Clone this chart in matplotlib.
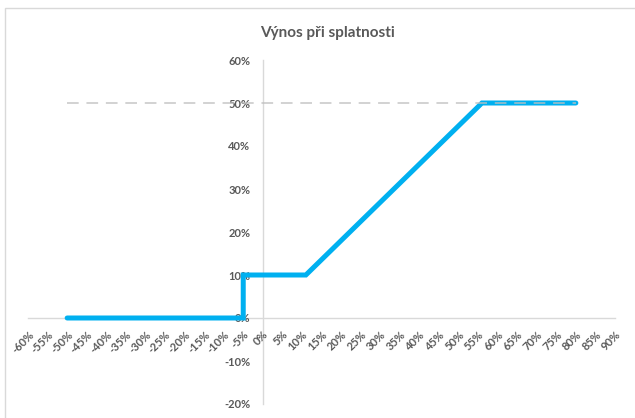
import matplotlib
matplotlib.use("Agg")
import matplotlib.pyplot as plt
from matplotlib.patches import Rectangle
import numpy as np

# payoff profile at maturity (x = underlying change, y = return)
x_pts = [-0.50, -0.05, -0.05, 0.11, 0.56, 0.80]
y_pts = [0.00, 0.00, 0.10, 0.10, 0.50, 0.50]
cap_x = [-0.50, 0.80]
cap_y = [0.50, 0.50]
x_ticks = np.arange(-60, 91, 5) / 100
y_ticks = np.arange(-20, 61, 10) / 100
title = "Výnos při splatnosti"

plt.rcParams["font.family"] = ["Lato", "DejaVu Sans"]
grey = "#595959"

fig = plt.figure(figsize=(6.35, 4.18), dpi=100)
fig.patches.append(Rectangle((5 / 635, -0.1), 1.2, 1 - 8 / 418 + 0.1,
                             transform=fig.transFigure, fill=False,
                             edgecolor="#d9d9d9", lw=1.0))
ax = fig.add_axes([28 / 635, 1 - 404 / 418, 587 / 635, 344 / 418])

ax.plot(x_pts, y_pts, color="#00b0f0", lw=3.6, solid_capstyle="round",
        solid_joinstyle="miter", zorder=3)
ax.plot(cap_x, cap_y, color="#bfbfbf", lw=1.4, ls=(0, (6, 4)), alpha=0.7, zorder=4)

ax.set_xlim(-0.6, 0.9)
ax.set_ylim(-0.2, 0.6)
for s in ("top", "right"):
    ax.spines[s].set_visible(False)
ax.spines["bottom"].set_position(("data", 0))
ax.spines["left"].set_position(("data", 0))
for s in ("bottom", "left"):
    ax.spines[s].set_color("#d9d9d9")
    ax.spines[s].set_linewidth(1.0)
    ax.spines[s].set_zorder(1)

ax.set_xticks(x_ticks)
ax.set_xticklabels([f"{round(v * 100)}%" for v in x_ticks], rotation=45,
                   ha="right", va="top", rotation_mode="anchor")
ax.set_yticks(y_ticks)
ax.set_yticklabels([f"{round(v * 100)}%" for v in y_ticks])
ax.tick_params(axis="both", length=0, labelsize=8, labelcolor=grey)
ax.tick_params(axis="x", pad=8)
ax.tick_params(axis="y", pad=9)
for lab in ax.get_xticklabels() + ax.get_yticklabels():
    lab.set_fontweight("bold")

fig.text(327 / 635, 1 - 33 / 418, title, ha="center", va="center",
         fontsize=11, color=grey, fontweight="bold")

fig.savefig("out.png", dpi=100)
